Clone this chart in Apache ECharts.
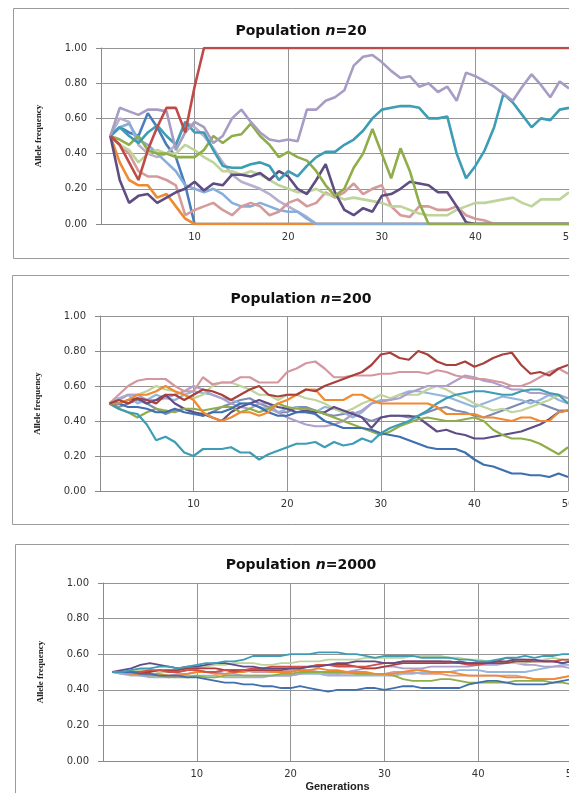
<!DOCTYPE html>
<html>
<head>
<meta charset="utf-8">
<script src="https://cdn.jsdelivr.net/npm/echarts@6/dist/echarts.min.js"></script>
<style>
  html, body { margin: 0; padding: 0; background: #fff; }
  #chart { width: 569px; height: 793px; }
</style>
</head>
<body>
<div id="chart"></div>
<script>
// generations 1..50
const generations = [1,2,3,4,5,6,7,8,9,10,11,12,13,14,15,16,17,18,19,20,21,22,23,24,25,26,27,28,29,30,31,32,33,34,35,36,37,38,39,40,41,42,43,44,45,46,47,48,49,50]
const yTicks = [0, 0.2, 0.4, 0.6, 0.8, 1.0]
const xTicks = [10, 20, 30, 40, 50]
const panelTitles = ['20', '200', '2000']

// population n=20
const n20Blue = [.50,.55,.52,.50,.63,.55,.45,.38,.22,0, 0,0,0,0,0,0,0,0,0,0, 0,0,0,0,0,0,0,0,0,0, 0,0,0,0,0,0,0,0,0,0, 0,0,0,0,0,0,0,0,0,0]
const n20Orange = [.50,.35,.25,.22,.22,.15,.17,.10,.03,0, 0,0,0,0,0,0,0,0,0,0, 0,0,0,0,0,0,0,0,0,0, 0,0,0,0,0,0,0,0,0,0, 0,0,0,0,0,0,0,0,0,0]
const n20Grey = [.50,.60,.58,.45,.40,.38,.40,.45,.58,.55, .50,.43,.35,.28,.24,.22,.20,.17,.13,.10, .07,.04,0,0,0,0,0,0,0,0, 0,0,0,0,0,0,0,0,0,0, 0,0,0,0,0,0,0,0,0,0]
const n20LightBlue = [.50,.55,.57,.48,.45,.40,.35,.30,.22,.20, .18,.20,.17,.12,.10,.10,.12,.10,.08,.07, .07,.03,0,0,0,0,0,0,0,0, 0,0,0,0,0,0,0,0,0,0, 0,0,0,0,0,0,0,0,0,0]
const n20Pink = [.50,.45,.40,.30,.27,.27,.25,.22,.05,.08, .10,.12,.08,.05,.10,.12,.10,.05,.07,.12, .14,.10,.12,.18,.15,.18,.23,.17,.20,.22, .10,.05,.04,.10,.10,.08,.08,.10,.05,.03, .02,0,0,0,0,0,0,0,0,0]
const n20LightGreen = [.50,.45,.42,.35,.40,.42,.40,.40,.45,.42, .38,.35,.30,.30,.28,.30,.28,.25,.22,.20, .18,.18,.20,.17,.16,.14,.15,.14,.13,.12, .10,.10,.08,.06,.05,.05,.05,.08,.10,.12, .12,.13,.14,.15,.12,.10,.14,.14,.14,.18]
const n20Purple = [.50,.25,.12,.16,.17,.12,.15,.18,.20,.24, .19,.23,.22,.28,.28,.27,.29,.25,.30,.27, .20,.17,.25,.34,.18,.08,.05,.09,.07,.16, .17,.20,.24,.23,.22,.18,.18,.10,.01,0, 0,0,0,0,0,0,0,0,0,0]
const n20Green = [.50,.48,.45,.50,.42,.40,.40,.38,.38,.38, .42,.50,.46,.50,.51,.57,.50,.45,.38,.41, .38,.36,.30,.22,.16,.20,.32,.40,.54,.40, .26,.43,.30,.12,0,0,0,0,0,0, 0,0,0,0,0,0,0,0,0,0]
const n20Teal = [.50,.55,.50,.46,.52,.56,.50,.45,.58,.52, .52,.42,.33,.32,.32,.34,.35,.33,.25,.30, .27,.33,.38,.41,.41,.45,.48,.53,.60,.65, .66,.67,.67,.66,.60,.60,.61,.40,.26,.33, .42,.55,.74,.69,.62,.55,.60,.59,.65,.66]
const n20Lavender = [.50,.66,.64,.62,.65,.65,.64,.42,.52,.58, .55,.46,.50,.60,.65,.58,.52,.48,.47,.48, .47,.65,.65,.70,.72,.76,.90,.95,.96,.92, .87,.83,.84,.78,.80,.75,.78,.70,.86,.84, .81,.78,.74,.70,.78,.85,.79,.72,.81,.77]
const n20Red = [.50,.45,.35,.25,.42,.55,.66,.66,.52,.78, 1,1,1,1,1,1,1,1,1,1, 1,1,1,1,1,1,1,1,1,1, 1,1,1,1,1,1,1,1,1,1, 1,1,1,1,1,1,1,1,1,1]

// population n=200
const n200Red = [.50,.52,.50,.53,.52,.50,.55,.55,.52,.55, .58,.57,.55,.52,.55,.58,.60,.55,.54,.55, .55,.58,.57,.60,.62,.64,.66,.68,.72,.78, .79,.76,.75,.80,.78,.74,.72,.72,.74,.71, .73,.76,.78,.79,.72,.67,.68,.66,.70,.72]
const n200Pink = [.50,.55,.60,.63,.64,.64,.64,.60,.57,.57, .65,.61,.62,.62,.65,.65,.62,.62,.62,.68, .70,.73,.74,.70,.65,.65,.66,.66,.66,.67, .67,.68,.68,.68,.67,.69,.68,.66,.65,.64, .64,.63,.62,.60,.60,.62,.65,.68,.70,.67]
const n200Orange = [.50,.50,.52,.55,.55,.57,.60,.57,.55,.52, .45,.42,.40,.42,.45,.45,.43,.45,.50,.52, .55,.58,.58,.52,.52,.52,.55,.55,.52,.50, .50,.50,.50,.50,.50,.48,.44,.44,.44,.44, .42,.42,.41,.40,.42,.42,.40,.40,.45,.46]
const n200Teal = [.50,.47,.45,.44,.38,.29,.31,.28,.22,.20, .24,.24,.24,.25,.22,.22,.18,.21,.23,.25, .27,.27,.28,.25,.28,.26,.27,.30,.28,.33, .36,.38,.40,.43,.46,.50,.53,.55,.56,.57, .57,.56,.55,.55,.57,.58,.58,.56,.55,.50]
const n200Blue = [.50,.50,.48,.48,.47,.45,.45,.47,.45,.44, .43,.45,.45,.47,.50,.50,.48,.45,.43,.43, .45,.45,.44,.40,.38,.36,.36,.36,.35,.33, .32,.31,.29,.27,.25,.24,.24,.24,.22,.18, .15,.14,.12,.10,.10,.09,.09,.08,.10,.08]
const n200Green = [.50,.47,.45,.42,.45,.47,.46,.45,.47,.47, .46,.47,.48,.48,.45,.47,.45,.47,.50,.48, .47,.47,.46,.44,.42,.40,.38,.36,.34,.32, .34,.37,.39,.41,.42,.41,.40,.40,.41,.42, .40,.35,.32,.30,.30,.29,.27,.24,.21,.25]
const n200Purple = [.50,.50,.52,.53,.50,.52,.55,.50,.47,.45, .44,.42,.40,.45,.48,.50,.52,.50,.48,.47, .45,.46,.45,.45,.48,.46,.44,.42,.36,.42, .43,.43,.43,.42,.38,.34,.35,.33,.32,.30, .30,.31,.32,.33,.34,.36,.38,.41,.45,.46]
const n200Lavender = [.50,.52,.55,.55,.52,.52,.53,.55,.57,.60, .58,.55,.53,.50,.48,.47,.50,.50,.45,.42, .40,.38,.37,.37,.38,.40,.44,.46,.50,.51, .52,.53,.56,.58,.60,.60,.60,.63,.66,.65, .63,.62,.60,.58,.58,.56,.56,.55,.55,.53]
const n200LightBlue = [.50,.53,.55,.50,.52,.55,.53,.52,.55,.57, .56,.55,.53,.52,.50,.50,.48,.47,.45,.47, .48,.45,.45,.48,.47,.45,.42,.45,.50,.52, .52,.55,.57,.57,.56,.55,.54,.52,.50,.48, .50,.52,.54,.53,.52,.50,.52,.55,.52,.50]
const n200LightGreen = [.50,.52,.55,.55,.57,.60,.58,.57,.55,.53, .55,.60,.62,.62,.60,.58,.55,.55,.52,.55, .55,.53,.52,.50,.47,.45,.47,.50,.52,.55, .53,.55,.55,.55,.58,.60,.58,.55,.53,.50, .48,.46,.47,.45,.46,.48,.50,.52,.55,.50]
const n200Grey = [.50,.48,.50,.52,.50,.47,.44,.46,.47,.45, .43,.45,.48,.50,.52,.53,.50,.48,.45,.45, .48,.48,.46,.44,.43,.44,.45,.42,.40,.42, .43,.43,.42,.43,.45,.47,.48,.46,.45,.43, .42,.44,.46,.48,.50,.52,.50,.48,.46,.46]

// population n=2000
const n2000Teal = [.50,.50,.51,.52,.52,.53,.53,.52,.53,.54, .55,.55,.56,.56,.57,.59,.59,.59,.59,.60, .60,.60,.61,.61,.61,.60,.60,.59,.58,.59, .59,.59,.59,.58,.58,.58,.58,.57,.57,.56, .56,.57,.58,.58,.59,.58,.59,.59,.60,.60]
const n2000Blue = [.50,.50,.50,.49,.49,.48,.48,.48,.47,.47, .46,.45,.44,.44,.43,.43,.42,.42,.41,.41, .42,.41,.40,.39,.40,.40,.40,.41,.41,.40, .41,.42,.42,.41,.41,.41,.41,.41,.43,.44, .45,.45,.44,.43,.43,.43,.43,.44,.45,.46]
const n2000Purple = [.50,.51,.52,.54,.55,.54,.53,.52,.53,.53, .54,.55,.55,.54,.53,.53,.52,.52,.52,.52, .52,.53,.53,.54,.55,.55,.56,.56,.56,.55, .55,.56,.56,.56,.56,.56,.56,.55,.55,.55, .55,.56,.56,.57,.57,.57,.56,.56,.55,.56]
const n2000Red = [.50,.50,.50,.50,.51,.51,.50,.50,.51,.51, .50,.50,.51,.50,.51,.52,.52,.53,.53,.53, .53,.53,.54,.54,.53,.53,.53,.53,.54,.55, .55,.56,.56,.56,.56,.56,.55,.55,.54,.54, .55,.56,.58,.57,.57,.56,.56,.56,.57,.57]
const n2000Orange = [.50,.50,.49,.49,.49,.49,.48,.48,.49,.50, .50,.49,.49,.50,.50,.51,.51,.50,.50,.50, .51,.51,.52,.51,.51,.50,.50,.50,.49,.49, .49,.50,.51,.51,.50,.50,.50,.49,.48,.48, .48,.48,.47,.47,.47,.46,.46,.46,.47,.48]
const n2000Green = [.50,.50,.50,.49,.48,.48,.47,.47,.47,.48, .47,.47,.48,.48,.48,.48,.48,.48,.49,.49, .50,.50,.50,.50,.50,.50,.49,.49,.49,.49, .48,.46,.45,.45,.45,.46,.46,.45,.44,.44, .44,.44,.44,.45,.45,.45,.45,.44,.44,.43]
const n2000LightGreen = [.50,.50,.51,.51,.51,.50,.50,.51,.52,.52, .53,.54,.54,.55,.55,.55,.54,.54,.55,.55, .56,.56,.56,.57,.57,.57,.57,.58,.58,.58, .58,.58,.59,.59,.59,.59,.58,.58,.57,.57, .56,.56,.55,.55,.55,.56,.57,.58,.57,.56]
const n2000Lavender = [.50,.49,.49,.48,.48,.48,.48,.49,.49,.50, .50,.50,.49,.49,.48,.48,.48,.48,.48,.48, .49,.50,.50,.49,.49,.50,.51,.52,.52,.53, .53,.52,.52,.52,.53,.53,.53,.53,.53,.54, .54,.54,.55,.55,.54,.54,.53,.53,.53,.52]
const n2000LightBlue = [.50,.49,.48,.48,.47,.47,.47,.48,.48,.48, .48,.48,.47,.47,.47,.47,.47,.48,.48,.48, .49,.49,.49,.48,.48,.48,.48,.48,.48,.48, .48,.49,.49,.50,.50,.50,.50,.51,.51,.51, .50,.50,.50,.50,.50,.51,.52,.53,.54,.54]
const n2000Pink = [.50,.50,.50,.51,.51,.50,.50,.50,.51,.51, .50,.50,.51,.51,.51,.50,.50,.50,.50,.51, .51,.51,.50,.50,.49,.49,.49,.49,.49,.49, .50,.50,.50,.49,.49,.49,.48,.48,.48,.48, .48,.48,.48,.48,.47,.46,.46,.46,.47,.48]
const n2000DarkRed = [.50,.50,.50,.50,.50,.51,.51,.51,.52,.52, .52,.52,.51,.51,.51,.51,.51,.51,.51,.52, .52,.53,.54,.54,.54,.54,.53,.52,.52,.53, .54,.55,.55,.55,.55,.55,.55,.56,.55,.55, .55,.55,.55,.56,.56,.56,.56,.56,.55,.56]

const panels = [
  [
    [n20Blue, '#4A7EBB'], [n20Orange, '#F08A30'], [n20Grey, '#B4B0CE'], [n20LightBlue, '#86AEDC'],
    [n20Pink, '#D59B9B'], [n20LightGreen, '#BFD49C'], [n20Purple, '#5E4C82'], [n20Green, '#8FAE4A'],
    [n20Teal, '#3C9DB5'], [n20Lavender, '#A79CC4'], [n20Red, '#BE4B48']
  ],
  [
    [n200Grey, '#7F8DB0'], [n200LightBlue, '#93B6DD'], [n200LightGreen, '#BFD49C'], [n200Lavender, '#AE9FCB'],
    [n200Purple, '#604C86'], [n200Green, '#8FAE4A'], [n200Blue, '#3F6FAF'], [n200Teal, '#3C9DB5'],
    [n200Orange, '#F08A30'], [n200Pink, '#D4979F'], [n200Red, '#A8403C']
  ],
  [
    [n2000Pink, '#D59B9B'], [n2000LightBlue, '#93B6DD'], [n2000Lavender, '#AE9FCB'], [n2000LightGreen, '#BFD49C'],
    [n2000Green, '#8FAE4A'], [n2000Orange, '#F08A30'], [n2000DarkRed, '#A8403C'], [n2000Red, '#D0504A'],
    [n2000Purple, '#604C86'], [n2000Blue, '#3F6FAF'], [n2000Teal, '#3C9DB5']
  ]
]

// layout of each panel
const grids = [
  { left: 101, top: 48, right: 0, height: 176, outerBoundsMode: 'none' },
  { left: 100, top: 316, right: 1, height: 175, outerBoundsMode: 'none' },
  { left: 103, top: 583, right: -3, height: 178, outerBoundsMode: 'none' }
]
const boxes = [
  { x: 13, y: 8, h: 250 },
  { x: 12, y: 275, h: 249 },
  { x: 15, y: 544, h: 260 }
]
const titleTops = [19, 287, 553]
const lineWidths = [2.6, 2.2, 1.8]

let chart = echarts.init(document.getElementById('chart'), null, { renderer: 'canvas' })

let option = {
  backgroundColor: '#fff',
  animation: false,
  title: panelTitles.map((n, i) => ({
    text: '{b|Population }{i|n}{b|=' + n + '}',
    left: 296,
    top: titleTops[i],
    textAlign: 'center',
    textStyle: {
      rich: {
        b: { fontFamily: 'DejaVu Sans', fontWeight: 'bold', fontSize: 14, color: '#111' },
        i: { fontFamily: 'DejaVu Sans', fontWeight: 'bold', fontStyle: 'italic', fontSize: 14, color: '#111' }
      }
    }
  })),
  graphic: boxes.map(b => ({
    type: 'rect',
    shape: { x: b.x + 0.5, y: b.y + 0.5, width: 600, height: b.h },
    style: { fill: 'none', stroke: '#9a9a9a', lineWidth: 1 },
    silent: true
  })),
  grid: grids,
  xAxis: grids.map((g, i) => ({
    type: 'value',
    gridIndex: i,
    min: 0,
    max: 50,
    interval: 10,
    name: i === 2 ? 'Generations' : '',
    nameLocation: 'middle',
    nameGap: 20,
    nameTextStyle: { fontFamily: 'Liberation Sans', fontWeight: 'bold', fontSize: 11, color: '#222' },
    axisLine: { lineStyle: { color: '#8a8a8a' } },
    axisTick: { show: false },
    axisLabel: {
      fontFamily: 'DejaVu Sans', fontSize: 10, color: '#333', margin: 8,
      formatter: v => (xTicks.indexOf(v) >= 0 ? String(v) : '')
    },
    splitLine: { show: true, lineStyle: { color: '#949494', width: 1 } }
  })),
  yAxis: grids.map((g, i) => ({
    type: 'value',
    gridIndex: i,
    min: yTicks[0],
    max: yTicks[yTicks.length - 1],
    interval: 0.2,
    name: 'Allele frequency',
    nameLocation: 'middle',
    nameRotate: 90,
    nameGap: 58,
    nameTextStyle: { fontFamily: 'Liberation Sans Narrow', fontWeight: 'bold', fontSize: 9, color: '#222' },
    axisLine: { show: true, lineStyle: { color: '#8a8a8a' } },
    axisTick: { show: true, length: 5, lineStyle: { color: '#8a8a8a' } },
    axisLabel: { fontFamily: 'DejaVu Sans', fontSize: 10, color: '#333', margin: 14, formatter: v => v.toFixed(2) },
    splitLine: { show: true, lineStyle: { color: '#949494', width: 1 } }
  })),
  series: []
}

panels.forEach((list, i) => {
  list.forEach(([values, color]) => {
    option.series.push({
      type: 'line',
      xAxisIndex: i,
      yAxisIndex: i,
      data: generations.map((g, k) => [g, values[k]]),
      showSymbol: false,
      lineStyle: { color: color, width: lineWidths[i] },
      itemStyle: { color: color }
    })
  })
})

chart.setOption(option)
</script>
</body>
</html>
